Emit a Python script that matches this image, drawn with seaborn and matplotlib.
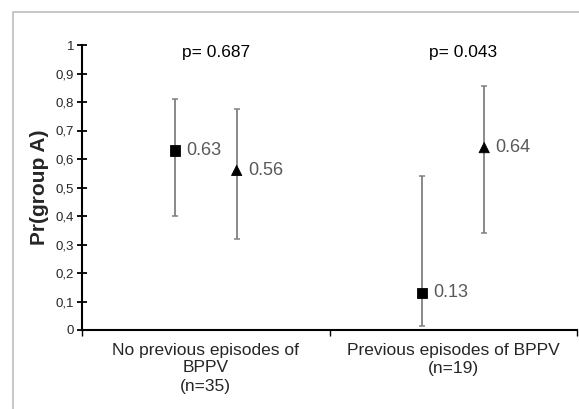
import numpy as np
import pandas as pd
import seaborn as sns
import matplotlib.pyplot as plt
from matplotlib.patches import Rectangle

# data
categories = ["No previous episodes of\nBPPV\n(n=35)", "Previous episodes of BPPV\n(n=19)"]
groups = ["square", "triangle"]
prob = [[0.63, 0.56], [0.13, 0.64]]
lower = [[0.40, 0.32], [0.015, 0.34]]
upper = [[0.81, 0.775], [0.54, 0.857]]
labels = [["0.63", "0.56"], ["0.13", "0.64"]]
pvalues = ["p= 0.687", "p= 0.043"]
ytick_vals = [0, 0.1, 0.2, 0.3, 0.4, 0.5, 0.6, 0.7, 0.8, 0.9, 1]
ytick_labels = ["0", "0,1", "0,2", "0,3", "0,4", "0,5", "0,6", "0,7", "0,8", "0,9", "1"]

sns.set_style("white")
plt.rcParams["font.family"] = ["Liberation Sans", "DejaVu Sans"]

offset = 0.125
rows = []
for i, cat in enumerate(categories):
    for j, g in enumerate(groups):
        rows.append({"x": i + (j - 0.5) * 2 * offset, "y": prob[i][j],
                     "lo": lower[i][j], "hi": upper[i][j],
                     "group": g, "label": labels[i][j]})
df = pd.DataFrame(rows)

fig = plt.figure(figsize=(5.79, 4.09), dpi=100)
fig.patches.append(Rectangle((13 / 579, -0.1), 1.2, 1 - 12 / 409 + 0.1,
                             transform=fig.transFigure, fill=False,
                             edgecolor="#bdbdbd", linewidth=1.2))
ax = fig.add_axes([82 / 579, 1 - 330 / 409, (577 - 82) / 579, (330 - 45) / 409])

ax.errorbar(df["x"], df["y"], yerr=[df["y"] - df["lo"], df["hi"] - df["y"]],
            fmt="none", ecolor="#808080", elinewidth=1.3, capsize=2.5, capthick=1.1, zorder=2)
sns.scatterplot(data=df, x="x", y="y", style="group",
                markers={"square": "s", "triangle": "^"},
                s=[55] * len(df), color="black", edgecolor="black", legend=False, zorder=3, ax=ax)
for _, r in df.iterrows():
    ax.text(r["x"] + 0.045, r["y"], r["label"], color="#595959", fontsize=13,
            va="center", ha="left")
for i, p in enumerate(pvalues):
    ax.text(i + 0.04, 0.975, p, fontsize=12.5, ha="center", va="center", color="black")

ax.set_xlim(-0.5, 1.5)
ax.set_ylim(0, 1)
ax.set_yticks(ytick_vals)
ax.set_yticklabels(ytick_labels, fontsize=9.5)
ax.tick_params(axis="y", left=True, direction="inout", length=7, width=1.3, color="black", pad=2)
ax.set_xticks([-0.5, 0.5, 1.5])
ax.set_xticklabels(["", "", ""])
ax.set_xticks(range(len(categories)), minor=True)
ax.set_xticklabels(categories, minor=True, fontsize=12.5, linespacing=1.25)
ax.tick_params(axis="x", which="major", bottom=True, direction="out", length=4, width=1.0, color="black")
ax.tick_params(axis="x", which="minor", bottom=True, length=0, pad=9)
ax.set_xlabel("")
ax.set_ylabel("Pr(group A)", fontsize=15, fontweight="bold", labelpad=5)
for s in ["top", "right"]:
    ax.spines[s].set_visible(False)
for s in ["left", "bottom"]:
    ax.spines[s].set_color("black")
    ax.spines[s].set_linewidth(1.5)

fig.savefig("out.png", dpi=100)
